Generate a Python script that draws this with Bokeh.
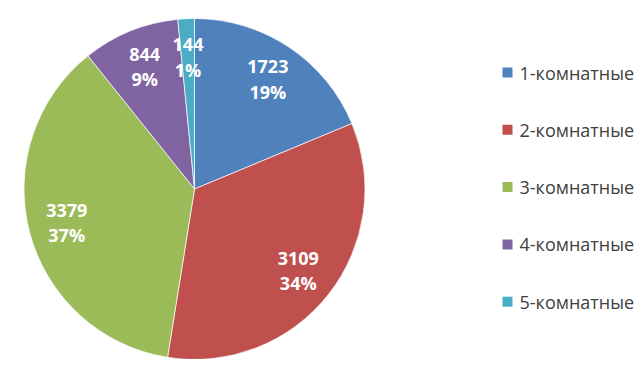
import math
from bokeh.plotting import figure
from bokeh.models import Range1d, ColumnDataSource
from bokeh.core.properties import value
from bokeh.embed import file_html
from bokeh.resources import INLINE

categories = ["1-комнатные", "2-комнатные", "3-комнатные", "4-комнатные", "5-комнатные"]
counts = [1723, 3109, 3379, 844, 144]
percent_labels = ["19%", "34%", "37%", "9%", "1%"]
colors = ["#4F81BD", "#C0504D", "#9BBB59", "#8064A2", "#4BACC6"]

W, H = 636, 359
p = figure(width=W, height=H, output_backend="svg", toolbar_location=None,
           x_range=Range1d(0, W), y_range=Range1d(0, H), min_border=0)
p.axis.visible = False
p.grid.visible = False
p.outline_line_color = None

cx, cy, R = 194, 170.5, 170.5
total = sum(counts)
starts, ends, lx, ly = [], [], [], []
cum = 0.0
for c in counts:
    a0 = math.pi / 2 - 2 * math.pi * cum / total
    cum += c
    a1 = math.pi / 2 - 2 * math.pi * cum / total
    starts.append(a0)
    ends.append(a1)
    mid = (a0 + a1) / 2
    rr = 0.775 * R
    lx.append(cx + rr * math.cos(mid))
    ly.append(cy + rr * math.sin(mid))

src = ColumnDataSource(dict(start=starts, end=ends, color=colors))
p.wedge(x=cx, y=cy, radius=R, start_angle="start", end_angle="end",
        direction="clock", fill_color="color", line_color="white",
        line_width=0.7, source=src)

lab = ColumnDataSource(dict(x=lx, y=ly, t=[f"{c}\n{pl}" for c, pl in zip(counts, percent_labels)]))
p.text(x="x", y="y", text="t", source=lab, text_color="white",
       text_font=value("Open Sans"), text_font_style="bold", text_font_size="18px",
       text_align="center", text_baseline="middle", text_line_height=1.05)

# legend
n = len(categories)
leg_y = [287 - i * 57.3 for i in range(n)]
p.rect(x=[507] * n, y=leg_y, width=10, height=10, fill_color=colors, line_color=None)
p.text(x=[519] * n, y=leg_y, text=categories, text_color="#404040",
       text_font=value("Open Sans"), text_font_size="18px",
       text_align="left", text_baseline="middle")

open("out.html", "w").write(file_html(p, INLINE))
